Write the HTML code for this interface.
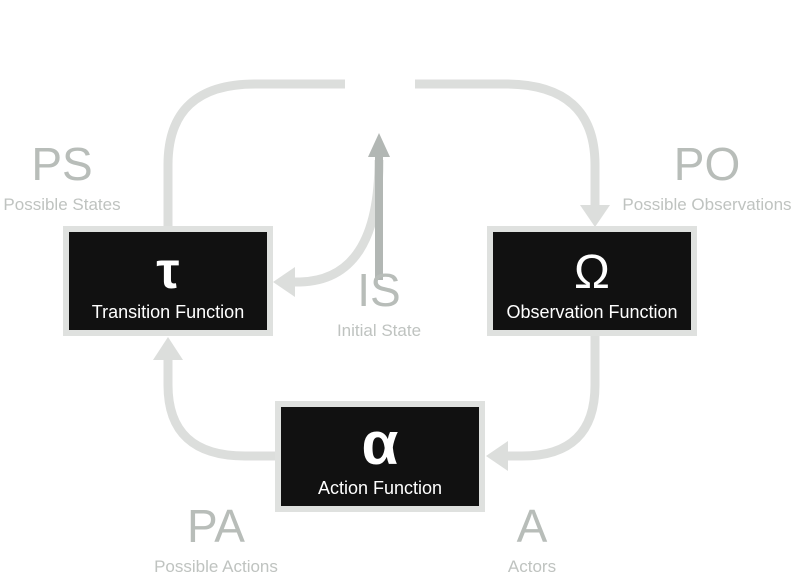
<!DOCTYPE html>
<html><head><style>
body{margin:0;background:#fff;}
svg{display:block;font-family:"Liberation Sans","DejaVu Sans",sans-serif;}
</style></head><body>
<svg width="799" height="579" viewBox="0 0 799 579">
<g fill="none" stroke="#dcdedc" stroke-width="9">
<path d="M168 226 L168 165 Q168 84 255 84 L345 84"/>
<path d="M415 84 L505 84 Q595 84 595 165 L595 208"/>
<path d="M379 160 Q379 280 300 282 L292 282"/>
<path d="M275 456 L245 456 Q168 456 168 385 L168 358"/>
<path d="M595 336 L595 385 Q595 456 522 456 L505 456"/>
</g>
<g fill="#dcdedc">
<polygon points="580,205 610,205 595,227"/>
<polygon points="295,267 295,297 273,282"/>
<polygon points="153,360 183,360 168,337"/>
<polygon points="508,441 508,471 486,456"/>
</g>
<line x1="379" y1="280" x2="379" y2="155" stroke="#b2b7b4" stroke-width="8"/>
<polygon points="368,157 390,157 379,133" fill="#b2b7b4"/>
<g fill="#dfe1df"><rect x="63" y="226" width="210" height="110"/><rect x="487" y="226" width="210" height="110"/><rect x="275" y="401" width="210" height="111"/></g>
<g fill="#111"><rect x="69" y="232" width="198" height="98"/><rect x="493" y="232" width="198" height="98"/><rect x="281" y="407" width="198" height="99"/></g>
<g fill="#fff" text-anchor="middle">
<text x="168" y="288" font-size="52" font-weight="bold">τ</text>
<text x="168" y="318" font-size="18">Transition Function</text>
<text x="592" y="288" font-size="48">Ω</text>
<text x="592" y="318" font-size="18">Observation Function</text>
<text x="380" y="464" font-size="60" font-weight="bold">α</text>
<text x="380" y="494" font-size="18">Action Function</text>
</g>
<g fill="#b8bdb9" text-anchor="middle">
<text x="62" y="180" font-size="46">PS</text>
<text x="62" y="210" font-size="17" fill="#bfc3c0">Possible States</text>
<text x="707" y="180" font-size="46">PO</text>
<text x="707" y="210" font-size="17" fill="#bfc3c0">Possible Observations</text>
<text x="379" y="306" font-size="46">IS</text>
<text x="379" y="336" font-size="17" fill="#bfc3c0">Initial State</text>
<text x="216" y="542" font-size="46">PA</text>
<text x="216" y="572" font-size="17" fill="#bfc3c0">Possible Actions</text>
<text x="532" y="542" font-size="46">A</text>
<text x="532" y="572" font-size="17" fill="#bfc3c0">Actors</text>
</g>
</svg>
</body></html>
